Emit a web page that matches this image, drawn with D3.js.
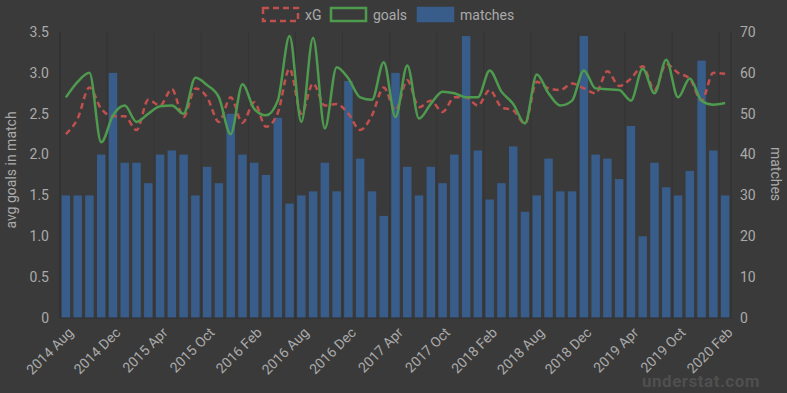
<!DOCTYPE html>
<html>
<head>
<meta charset="utf-8">
<script src="https://cdn.jsdelivr.net/npm/d3@7"></script>
<style>
html,body{margin:0;padding:0;background:#3a3a3a;}
svg{display:block;font-family:Roboto,"Open Sans",sans-serif;}
</style>
</head>
<body>
<svg id="chart" width="787" height="393"></svg>
<script>
const months = [
"2014 Aug","2014 Sep","2014 Oct","2014 Nov","2014 Dec","2015 Jan","2015 Feb","2015 Mar","2015 Apr","2015 May",
"2015 Aug","2015 Sep","2015 Oct","2015 Nov","2015 Dec","2016 Jan","2016 Feb","2016 Mar","2016 Apr","2016 May",
"2016 Aug","2016 Sep","2016 Oct","2016 Nov","2016 Dec","2017 Jan","2017 Feb","2017 Mar","2017 Apr","2017 May",
"2017 Aug","2017 Sep","2017 Oct","2017 Nov","2017 Dec","2018 Jan","2018 Feb","2018 Mar","2018 Apr","2018 May",
"2018 Aug","2018 Sep","2018 Oct","2018 Nov","2018 Dec","2019 Jan","2019 Feb","2019 Mar","2019 Apr","2019 May",
"2019 Aug","2019 Sep","2019 Oct","2019 Nov","2019 Dec","2020 Jan","2020 Feb"];
const matches = [30,30,30,40,60,38,38,33,40,41, 40,30,37,33,50,40,38,35,49,28,
  30,31,38,31,58,39,31,25,60,37, 30,37,33,40,69,41,29,33,42,26,
  30,39,31,31,69,40,39,34,47,20, 38,32,30,36,63,41,30];
const goals = [2.70,2.89,3.00,2.15,2.48,2.60,2.40,2.50,2.59,2.60, 2.50,2.94,2.85,2.70,2.25,2.86,2.56,2.48,2.66,3.45,
  2.40,3.43,2.32,3.07,2.93,2.70,2.67,3.13,2.46,3.09, 2.44,2.62,2.77,2.75,2.70,2.70,3.03,2.77,2.62,2.38,
  2.98,2.75,2.60,2.66,3.03,2.81,2.80,2.79,2.66,3.05, 2.75,3.16,2.70,2.93,2.66,2.61,2.63];
const xg = [2.25,2.44,2.82,2.56,2.47,2.47,2.30,2.67,2.60,2.80, 2.46,2.81,2.70,2.40,2.70,2.39,2.64,2.34,2.51,3.05,
  2.50,2.87,2.60,2.62,2.50,2.30,2.48,2.82,2.54,2.91, 2.58,2.66,2.52,2.70,2.70,2.60,2.79,2.58,2.54,2.38,
  2.89,2.81,2.79,2.87,2.81,2.75,3.02,2.84,2.93,3.08, 2.79,3.11,3.00,2.93,2.66,3.00,2.99];
const leftTicks = [0,0.5,1.0,1.5,2.0,2.5,3.0,3.5];
const rightTicks = [0,10,20,30,40,50,60,70];

const svg = d3.select("#chart");
const L = 60, R = 731, T = 32, B = 318;
const textColor = "#aaaaaa";

const x = d3.scaleBand().domain(months).range([L, R]).paddingInner(0.28).paddingOuter(0.14);
const step = x.step();
const cx = d => x(d) + x.bandwidth()/2;
const yL = d3.scaleLinear().domain([0, 3.5]).range([B, T]);
const yR = d3.scaleLinear().domain([0, 70]).range([B, T]);

// vertical grid lines at labelled category boundaries
const labelled = months.filter((m,i) => i % 4 === 0);
svg.append("g").selectAll("line").data(labelled).enter().append("line")
  .attr("x1", d => cx(d) - step/2).attr("x2", d => cx(d) - step/2)
  .attr("y1", T).attr("y2", B)
  .attr("stroke", "#343434").attr("stroke-width", 1);

// bars
svg.append("g").selectAll("rect").data(months).enter().append("rect")
  .attr("x", d => x(d)).attr("width", x.bandwidth())
  .attr("y", (d,i) => yR(matches[i])).attr("height", (d,i) => B - yR(matches[i]))
  .attr("fill", "#385d8a");

// axes lines
svg.append("line").attr("x1", L).attr("x2", L).attr("y1", T).attr("y2", B).attr("stroke", "#2e2e2e");
svg.append("line").attr("x1", R).attr("x2", R).attr("y1", T).attr("y2", B).attr("stroke", "#2e2e2e");
svg.append("line").attr("x1", L).attr("x2", R).attr("y1", B).attr("y2", B).attr("stroke", "#2e2e2e");

// lines
const lineG = d3.line().x((d,i) => cx(months[i])).y(d => yL(d)).curve(d3.curveMonotoneX);
svg.append("path").datum(xg).attr("d", lineG).attr("fill", "none")
  .attr("stroke", "#c0504d").attr("stroke-width", 2.5).attr("stroke-dasharray", "6,4");
svg.append("path").datum(goals).attr("d", lineG).attr("fill", "none")
  .attr("stroke", "#4e9a4e").attr("stroke-width", 2.5);

// left ticks
const fmtL = d => d === 0 ? "0" : d.toFixed(1);
svg.append("g").selectAll("text").data(leftTicks).enter().append("text")
  .attr("x", 49).attr("y", d => yL(d)).attr("dy", "0.35em")
  .attr("text-anchor", "end").attr("fill", textColor).attr("font-size", 14).text(fmtL);
// right ticks
svg.append("g").selectAll("text").data(rightTicks).enter().append("text")
  .attr("x", 740).attr("y", d => yR(d)).attr("dy", "0.35em")
  .attr("text-anchor", "start").attr("fill", textColor).attr("font-size", 14).text(d => d);

// axis titles
svg.append("text").attr("transform", "translate(16,170) rotate(-90)")
  .attr("text-anchor", "middle").attr("fill", textColor).attr("font-size", 14).text("avg goals in match");
svg.append("text").attr("transform", "translate(771,174) rotate(90)")
  .attr("text-anchor", "middle").attr("fill", textColor).attr("font-size", 14).text("matches");

// x labels
svg.append("g").selectAll("text").data(labelled).enter().append("text")
  .attr("transform", d => `translate(${cx(d)+5},${B+12}) rotate(-45)`)
  .attr("text-anchor", "end").attr("dy", "0.35em")
  .attr("fill", textColor).attr("font-size", 14).text(d => d);

// legend
const legend = [
  {name:"xG", x:263, stroke:"#c0504d", fill:"none", dash:"6,4"},
  {name:"goals", x:331, stroke:"#4e9a4e", fill:"none", dash:null},
  {name:"matches", x:418, stroke:"#385d8a", fill:"#385d8a", dash:null}
];
const lg = svg.append("g").selectAll("g").data(legend).enter().append("g");
lg.append("rect").attr("x", d => d.x).attr("y", 8).attr("width", 35).attr("height", 13)
  .attr("fill", d => d.fill).attr("stroke", d => d.stroke).attr("stroke-width", 2.5)
  .attr("stroke-dasharray", d => d.dash);
lg.append("text").attr("x", d => d.x + 42).attr("y", 15).attr("dy", "0.35em")
  .attr("fill", textColor).attr("font-size", 14).text(d => d.name);

// watermark
svg.append("text").attr("x", 760).attr("y", 387).attr("text-anchor", "end")
  .attr("fill", "#4f4f4f").attr("font-size", 17).attr("font-weight", "bold")
  .attr("letter-spacing", 0.5).text("understat.com");
</script>
</body>
</html>
